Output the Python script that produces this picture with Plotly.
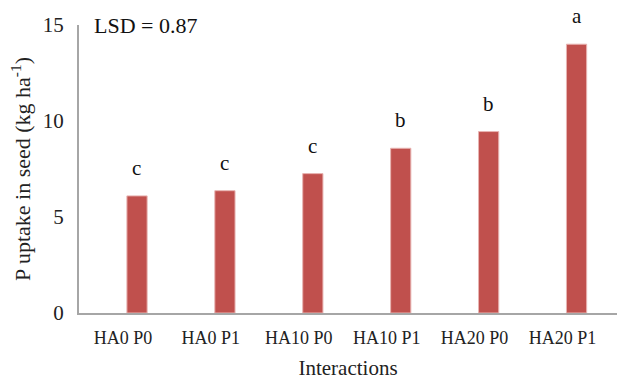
import plotly.graph_objects as go

categories = ["HA0 P0", "HA0 P1", "HA10 P0", "HA10 P1", "HA20 P0", "HA20 P1"]
values = [6.1, 6.37, 7.26, 8.58, 9.45, 14.0]
letters = ["c", "c", "c", "b", "b", "a"]
y_ticks = [0, 5, 10, 15]

FONT = "Liberation Serif, Times New Roman, serif"
BAR_COLOR = "#C0504D"

fig = go.Figure()
fig.add_trace(go.Bar(
    x=categories, y=values,
    marker=dict(color=BAR_COLOR, line=dict(color="#E8B4B2", width=1)),
    width=0.23, offset=0.045,
    showlegend=False, cliponaxis=False,
))

for c, v, l in zip(categories, values, letters):
    fig.add_annotation(x=c, y=v, text=l, showarrow=False, xshift=14, yshift=28,
                       borderpad=0, font=dict(family=FONT, size=21, color="#111"))

fig.add_annotation(xref="paper", yref="paper", x=0.025, y=1.0, xanchor="left", yanchor="middle",
                   text="LSD = 0.87", showarrow=False, font=dict(family=FONT, size=22, color="#111"))

fig.update_layout(
    width=617, height=381,
    margin=dict(l=79, r=0, t=25, b=68),
    plot_bgcolor="white", paper_bgcolor="white",
    font=dict(family=FONT, size=18, color="#222"),
    xaxis=dict(
        type="category", range=[-0.5, 5.62],
        showline=True, linecolor="#A6A6A6", linewidth=2,
        showgrid=False, ticks="", ticklabelstandoff=7,
        tickfont=dict(family=FONT, size=18, color="#222"),
        title=dict(text="Interactions", font=dict(family=FONT, size=21, color="#222"), standoff=14),
    ),
    yaxis=dict(
        range=[0, 15], tickvals=y_ticks,
        showline=True, linecolor="#A6A6A6", linewidth=2,
        showgrid=False, zeroline=False, ticks="", ticklabelstandoff=9,
        tickfont=dict(family=FONT, size=21, color="#222"),
        title=dict(text="P uptake in seed (kg ha<sup>-1</sup>)",
                   font=dict(family=FONT, size=22, color="#222"), standoff=6),
    ),
)

fig.write_html("out.html", config={"displayModeBar": False},
               post_script="document.body.style.margin='0';")
